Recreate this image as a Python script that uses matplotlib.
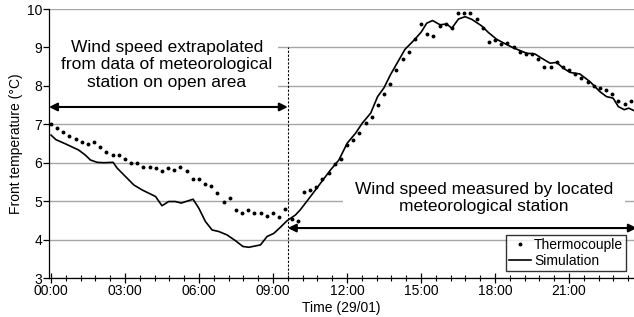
import numpy as np
import matplotlib
matplotlib.use("Agg")
import matplotlib.pyplot as plt
from matplotlib.patches import Rectangle
from matplotlib.ticker import MultipleLocator

plt.rcParams['font.family'] = ['Liberation Sans', 'DejaVu Sans']

# ---- data ----
thermo_step_h = 0.25
thermo_T = [7.00, 6.90, 6.80, 6.70, 6.62, 6.55, 6.49, 6.53, 6.40, 6.29,
            6.20, 6.20, 6.09, 5.99, 5.99, 5.90, 5.90, 5.86, 5.79, 5.86,
            5.80, 5.90, 5.79, 5.58, 5.58, 5.45, 5.39, 5.20, 4.99, 5.08,
            4.78, 4.69, 4.78, 4.69, 4.69, 4.62, 4.69, 4.58, 4.79, 4.54,
            4.49, 5.25, 5.29, 5.38, 5.58, 5.74, 5.97, 6.09, 6.46, 6.59,
            6.78, 7.03, 7.20, 7.50, 7.79, 8.04, 8.40, 8.69, 8.89, 9.21,
            9.60, 9.35, 9.30, 9.56, 9.61, 9.50, 9.89, 9.89, 9.89, 9.74,
            9.50, 9.15, 9.20, 9.09, 9.11, 9.00, 8.89, 8.84, 8.82, 8.69,
            8.49, 8.49, 8.61, 8.49, 8.40, 8.30, 8.20, 8.11, 8.00, 7.94,
            7.90, 7.79, 7.61, 7.54, 7.61]
thermo_t = np.arange(len(thermo_T)) * thermo_step_h

sim_t = [0.0, 0.2, 0.59, 1.12, 1.39, 1.6, 1.87, 2.14, 2.52, 2.68, 3.02, 3.36,
         3.7, 4.24, 4.38, 4.5, 4.77, 5.04, 5.28, 5.76, 5.99, 6.26, 6.53, 6.8,
         7.14, 7.48, 7.78, 8.02, 8.49, 8.76, 9.03, 9.3, 9.57, 9.91, 10.1,
         10.52, 10.93, 11.33, 11.67, 12.01, 12.35, 12.62, 12.96, 13.24, 13.5,
         13.77, 13.95, 14.35, 14.75, 15.02, 15.23, 15.47, 15.77, 16.04, 16.25,
         16.52, 16.79, 17.06, 17.46, 17.73, 18.07, 18.4, 18.74, 19.28, 19.62,
         19.89, 20.23, 20.5, 20.77, 21.04, 21.44, 21.85, 22.25, 22.52, 22.79,
         23.0, 23.24, 23.42, 23.62]
sim_T = [6.72, 6.6, 6.49, 6.33, 6.2, 6.07, 6.01, 6.0, 6.01, 5.86, 5.64, 5.42,
         5.29, 5.12, 4.99, 4.88, 4.99, 4.99, 4.95, 5.05, 4.82, 4.47, 4.25, 4.21,
         4.12, 3.97, 3.82, 3.80, 3.86, 4.08, 4.16, 4.32, 4.49, 4.64, 4.77,
         5.12, 5.47, 5.81, 6.07, 6.51, 6.77, 7.03, 7.29, 7.72, 7.95,
         8.3, 8.5, 8.95, 9.21, 9.41, 9.63, 9.70, 9.59, 9.61, 9.50,
         9.74, 9.80, 9.73, 9.56, 9.39, 9.21, 9.1, 8.99, 8.85, 8.83,
         8.72, 8.59, 8.61, 8.46, 8.35, 8.31, 8.11, 7.85, 7.72, 7.68,
         7.46, 7.38, 7.42, 7.36]

xtick_hours = [0, 3, 6, 9, 12, 15, 18, 21]
xtick_labels = ["00:00", "03:00", "06:00", "09:00", "12:00", "15:00", "18:00", "21:00"]
split_hour = 9.6

# ---- figure ----
fig = plt.figure(figsize=(6.34, 3.17), dpi=100)
ax = fig.add_axes([49/634, 39/317, 585/634, 269/317])
ax.set_xlim(-0.081, 23.635)
ax.set_ylim(3, 10)

ax.set_yticks(range(3, 11))
ax.yaxis.grid(True, color='#a6a6a6', linewidth=1.0, zorder=0)
ax.set_axisbelow(True)
for s in ['top', 'right']:
    ax.spines[s].set_visible(False)
ax.spines['left'].set_linewidth(0.9)
ax.spines['bottom'].set_linewidth(0.9)

ax.set_xticks(xtick_hours)
ax.set_xticklabels(xtick_labels)
ax.xaxis.set_minor_locator(MultipleLocator(0.6))
ax.tick_params(axis='x', which='major', direction='inout', length=7, width=0.9, labelsize=10, pad=1)
ax.tick_params(axis='x', which='minor', direction='inout', length=4, width=0.8)
ax.tick_params(axis='y', which='major', direction='out', length=4, width=0.9, labelsize=10, pad=1)

ax.set_xlabel("Time (29/01)", fontsize=10, labelpad=2)
ax.set_ylabel("Front temperature (°C)", fontsize=10, labelpad=3)

# white boxes behind annotations (hide gridlines)
ax.add_patch(Rectangle((-0.081, 7.6), 9.3, 2.0, facecolor='white', edgecolor='none', zorder=1))
ax.add_patch(Rectangle((11.84, 4.45), 11.43, 1.4, facecolor='white', edgecolor='none', zorder=1))

ax.plot(thermo_t, thermo_T, linestyle='none', marker='o', markersize=1.8,
        color='black', label='Thermocouple', zorder=3)
ax.plot(sim_t, sim_T, color='black', linewidth=1.2, label='Simulation', zorder=3)

ax.plot([split_hour, split_hour], [3, 9.0], color='black', linestyle=(0, (2, 1.5)),
        linewidth=0.8, zorder=2)

ax.annotate('', xy=(-0.08, 7.45), xytext=(split_hour, 7.45),
            arrowprops=dict(arrowstyle='<|-|>', color='black', lw=1.5,
                            mutation_scale=12, shrinkA=0, shrinkB=0), zorder=4)
ax.annotate('', xy=(split_hour, 4.30), xytext=(23.75, 4.30),
            arrowprops=dict(arrowstyle='<|-|>', color='black', lw=1.5,
                            mutation_scale=12, shrinkA=0, shrinkB=0),
            annotation_clip=False, zorder=4)

ax.text(4.7, 8.55, "Wind speed extrapolated\nfrom data of meteorological\nstation on open area",
        ha='center', va='center', fontsize=12.5, linespacing=1.2, zorder=5)
ax.text(17.55, 5.08, "Wind speed measured by located\nmeteorological station",
        ha='center', va='center', fontsize=12.5, linespacing=1.15, zorder=5)

leg = ax.legend(loc='lower right', fontsize=10, frameon=True, fancybox=False,
                handlelength=1.6, handletextpad=0.2, borderpad=0.2, labelspacing=0.15,
                borderaxespad=0, markerscale=1.0)
leg.get_frame().set_edgecolor('black')
leg.get_frame().set_linewidth(1.0)
leg.set_zorder(6)
leg.set_bbox_to_anchor((626/634, (317-271)/317), transform=fig.transFigure)

fig.savefig("out.png", dpi=100)
